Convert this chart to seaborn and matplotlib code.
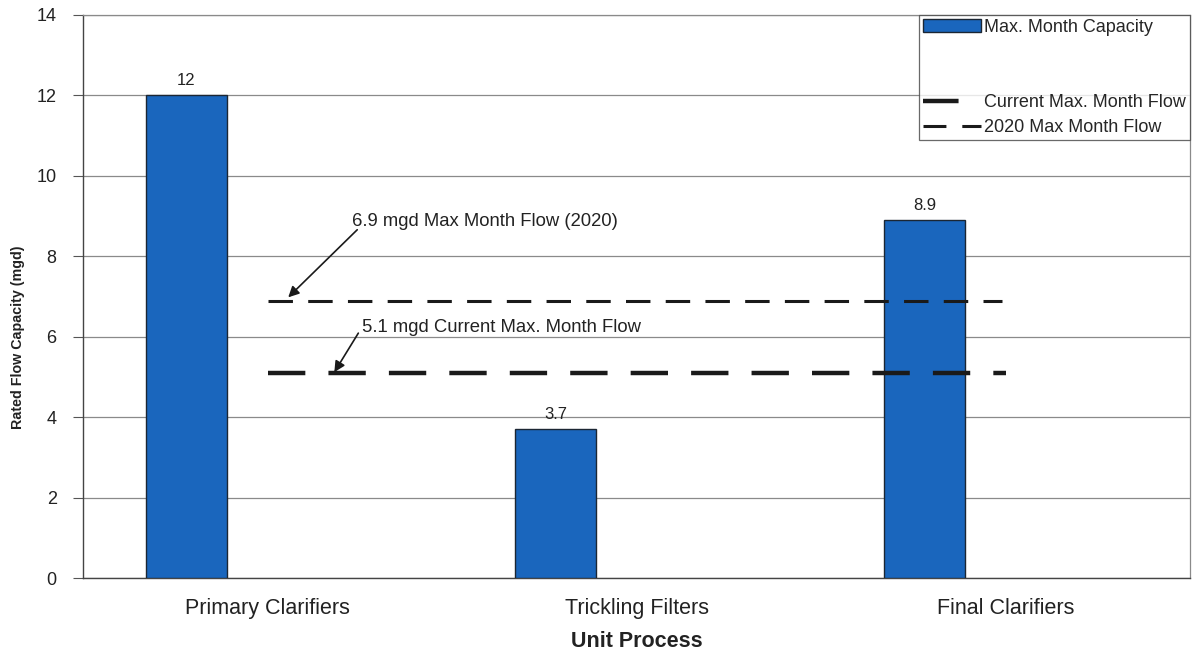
import matplotlib
matplotlib.use("Agg")
import matplotlib.pyplot as plt
from matplotlib.lines import Line2D
from matplotlib.patches import Patch
from matplotlib.ticker import FixedLocator
import seaborn as sns
import pandas as pd

# Unit process capacities (mgd)
processes = ["Primary Clarifiers", "Trickling Filters", "Final Clarifiers"]
capacity = [12, 3.7, 8.9]

# Reference flows (mgd)
current_flow = 5.1
future_flow = 6.9

sns.set_theme(style="white")
plt.rcParams["font.family"] = ["Liberation Sans", "DejaVu Sans"]

df = pd.DataFrame({"process": processes, "capacity": capacity})

fig = plt.figure(figsize=(11.93, 6.51), dpi=100)
ax = fig.add_axes([0.0696, 0.112, 0.928, 0.865])

ink = "#1a1a1a"
txt = "#222222"
bar_color = "#1a66bd"
sns.barplot(data=df, x="process", y="capacity", color=bar_color, width=0.22,
            edgecolor="#1b2633", linewidth=1.0, saturation=1, ax=ax, zorder=3)

labels = [f"{v:g}" for v in capacity]
ax.bar_label(ax.containers[0], labels=labels, padding=5, fontsize=12, color=txt)

# Flow lines across the processes
ax.plot([0.22, 2.21], [future_flow] * 2, color=ink, lw=2.2, dashes=(8, 5), zorder=4)
ax.plot([0.22, 2.22], [current_flow] * 2, color=ink, lw=3.2, dashes=(8.4, 5.2), zorder=4)

# Callouts for the flow lines
ax.text(0.45, 8.86, f"{future_flow:g} mgd Max Month Flow (2020)", fontsize=13.3,
        color=txt, va="center", ha="left")
ax.annotate("", xy=(0.276, future_flow + 0.08), xytext=(0.463, 8.66),
            arrowprops=dict(arrowstyle="-|>", color=ink, lw=1.2, mutation_scale=16,
                            shrinkA=0, shrinkB=0))
ax.text(0.477, 6.22, f"{current_flow:g} mgd Current Max. Month Flow", fontsize=13.3,
        color=txt, va="center", ha="left")
ax.annotate("", xy=(0.401, current_flow + 0.02), xytext=(0.466, 6.09),
            arrowprops=dict(arrowstyle="-|>", color=ink, lw=1.2, mutation_scale=16,
                            shrinkA=0, shrinkB=0))

ax.set_xlim(-0.28, 2.72)
ax.set_ylim(0, 14)
ax.set_yticks(range(0, 15, 2))
ax.yaxis.grid(True, color="#8a8a8a", lw=0.9)
ax.set_axisbelow(True)

ax.set_xticks([i + 0.22 for i in range(len(processes))])
ax.set_xticklabels(processes)
ax.xaxis.set_minor_locator(FixedLocator([-0.28, 0.72, 1.72, 2.72]))
ax.tick_params(axis="x", which="major", length=0, labelsize=15.5, pad=14, colors=txt)
ax.tick_params(axis="x", which="minor", length=9, width=0.8, color="#555555", direction="inout")
ax.tick_params(axis="y", which="major", left=True, length=7, width=0.8, color="#555555",
               labelsize=13, pad=12, colors=txt)

ax.set_xlabel("Unit Process", fontsize=15.5, fontweight="bold", labelpad=9, color=txt)
ax.set_ylabel("Rated Flow Capacity (mgd)", fontsize=10.3, fontweight="bold", color=txt)
ax.yaxis.set_label_coords(-0.0524, 0.428)

for side in ["left", "bottom"]:
    ax.spines[side].set_color("#444444")
    ax.spines[side].set_linewidth(1.0)
for side in ["top", "right"]:
    ax.spines[side].set_color("#8a8a8a")
    ax.spines[side].set_linewidth(0.9)

blank = Line2D([], [], color="none")
handles = [
    Patch(facecolor=bar_color, edgecolor="#1b2633", linewidth=1.0),
    blank, blank,
    Line2D([], [], color=ink, lw=3.2, dashes=(8, 6)),
    Line2D([], [], color=ink, lw=2.2, dashes=(7.5, 5.2)),
]
leg_labels = ["Max. Month Capacity", " ", " ", "Current Max. Month Flow", "2020 Max Month Flow"]
leg = ax.legend(handles, leg_labels, loc="upper right", bbox_to_anchor=(1.0, 1.0),
                borderaxespad=0, fontsize=13, frameon=True, fancybox=False,
                edgecolor="#444444", handlelength=3.2, handletextpad=0.2,
                labelspacing=0.45, borderpad=0.22)
leg.get_frame().set_linewidth(0.9)
leg.set_zorder(5)

fig.savefig("out.png", dpi=100)
